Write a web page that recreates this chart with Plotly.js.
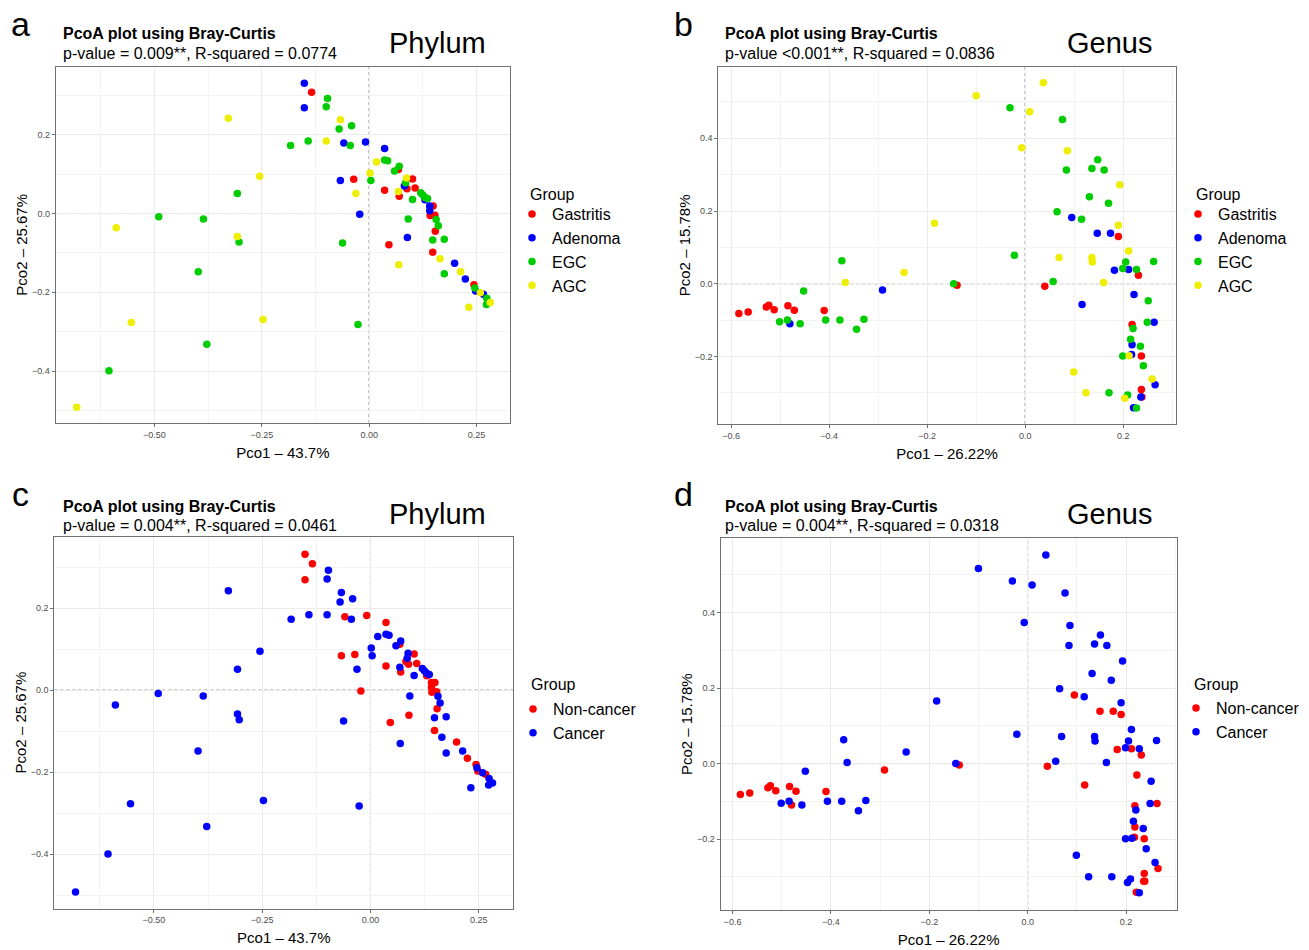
<!DOCTYPE html>
<html>
<head>
<meta charset="utf-8">
<script src="https://cdn.plot.ly/plotly-3.0.1.min.js"></script>
<style>html,body{margin:0;padding:0;background:#fff;}#chart{width:1309px;height:950px;}</style>
</head>
<body>
<div id="chart"></div>
<script>
// ---------------- DATA ----------------
// Phylum-level PCoA (panels a & c)
const phylumGastritisX = [-0.134,-0.036,0.036,0.068,0.101,0.088,0.070,0.107,0.046,0.149,0.142,0.153,0.154,0.148,0.244];
const phylumGastritisY = [0.308,0.087,0.059,0.112,0.088,0.063,0.044,0.065,-0.079,0.019,-0.005,-0.004,-0.045,-0.098,-0.181];
const phylumAdenomaX = [-0.151,-0.151,-0.059,-0.0085,-0.067,0.036,-0.022,0.082,0.089,0.141,0.141,0.130,0.199,0.224,0.248,0.266];
const phylumAdenomaY = [0.331,0.269,0.179,0.182,0.084,0.165,-0.002,0.070,-0.061,0.019,0.007,0.035,-0.126,-0.166,-0.197,-0.205];
const phylumEGCX = [-0.097,-0.100,-0.070,-0.041,-0.142,-0.183,-0.044,-0.307,-0.490,-0.386,-0.303,-0.062,-0.398,-0.378,-0.606,-0.026,0.004,0.036,0.043,0.059,0.070,0.085,0.120,0.125,0.130,0.136,0.101,0.091,0.156,0.161,0.148,0.175,0.175,0.246,0.274,0.273];
const phylumEGCY = [0.292,0.271,0.215,0.223,0.184,0.173,0.173,0.051,-0.008,-0.014,-0.072,-0.075,-0.148,-0.332,-0.399,-0.282,0.084,0.136,0.134,0.108,0.120,0.078,0.053,0.047,0.041,0.038,0.036,-0.014,-0.015,-0.031,-0.067,-0.065,-0.153,-0.189,-0.215,-0.231];
const phylumAGCX = [-0.328,-0.067,-0.100,-0.255,0.017,0.002,0.087,-0.031,0.068,-0.589,-0.307,0.069,0.165,0.213,0.259,0.282,0.232,-0.554,-0.247,-0.681];
const phylumAGCY = [0.242,0.238,0.184,0.095,0.131,0.103,0.090,0.051,0.056,-0.036,-0.058,-0.130,-0.115,-0.148,-0.201,-0.226,-0.238,-0.277,-0.269,-0.492];

// Genus-level PCoA (panels b & d)
const genusGastritisX = [-0.584,-0.565,-0.528,-0.523,-0.512,-0.484,-0.471,-0.410,-0.139,0.040,0.190,0.231,0.218,0.237,0.237,0.238];
const genusGastritisY = [-0.082,-0.078,-0.064,-0.059,-0.072,-0.061,-0.073,-0.074,-0.004,-0.007,0.130,0.023,-0.112,-0.199,-0.291,-0.312];
const genusAdenomaX = [-0.480,-0.291,0.095,0.147,0.174,0.182,0.211,0.222,0.116,0.263,0.218,0.217,0.265,0.236,0.221];
const genusAdenomaY = [-0.110,-0.017,0.182,0.139,0.139,0.037,0.039,-0.030,-0.057,-0.106,-0.168,-0.195,-0.278,-0.312,-0.341];
const genusEGCX = [-0.031,0.076,0.084,0.136,0.148,0.161,0.131,0.170,0.065,0.115,-0.022,0.057,0.205,0.199,0.227,0.262,0.251,0.249,0.220,0.215,0.235,0.199,0.241,0.171,0.209,0.227,-0.374,-0.452,-0.501,-0.485,-0.459,-0.407,-0.378,-0.344,-0.329,-0.146];
const genusEGCY = [0.484,0.452,0.313,0.317,0.341,0.313,0.239,0.221,0.198,0.177,0.078,0.006,0.060,0.042,0.039,0.061,-0.047,-0.106,-0.123,-0.153,-0.172,-0.199,-0.226,-0.300,-0.306,-0.342,0.063,-0.020,-0.105,-0.100,-0.110,-0.100,-0.100,-0.125,-0.098,0.000];
const genusAGCX = [0.037,-0.100,0.009,-0.007,0.086,0.193,0.190,-0.185,0.211,0.069,0.136,0.137,-0.247,-0.367,0.160,0.212,0.099,0.259,0.124,0.203];
const genusAGCY = [0.553,0.517,0.473,0.374,0.366,0.272,0.161,0.166,0.090,0.072,0.072,0.060,0.031,0.003,0.003,-0.198,-0.243,-0.262,-0.300,-0.315];

const groupNames = ['Gastritis','Adenoma','EGC','AGC'];
const statusNames = ['Non-cancer','Cancer'];
const legendTitle = 'Group';
const xTitles = ['Pco1 \u2013 43.7%','Pco1 \u2013 26.22%'];
const yTitles = ['Pco2 \u2013 25.67%','Pco2 \u2013 15.78%'];
const pLines = ['p-value = 0.009**, R-squared = 0.0774','p-value <0.001**, R-squared = 0.0836','p-value = 0.004**, R-squared = 0.0461','p-value = 0.004**, R-squared = 0.0318'];
const levelNames = ['Phylum','Genus','Phylum','Genus'];
const panelLetters = ['a','b','c','d'];
const headline = 'PcoA plot using Bray-Curtis';

// ---------------- STYLE ----------------
const W = 1309, H = 950;
const px = v => v / W;
const py = v => 1 - v / H;
const FONT = 'Liberation Sans, Arial, sans-serif';
const groupColors = ['#FF0000','#0000FF','#00CD00','#EEEE00'];
const statusColors = ['#FF0000','#0000FF'];
const MS = 7.5;

function pts(x, y, name, color, xa, ya, legend) {
  return {type:'scatter', mode:'markers', x:x, y:y, name:name, xaxis:xa, yaxis:ya, legend:legend,
    marker:{color:color, size:MS}, hoverinfo:'x+y+name'};
}

const phylum = [[phylumGastritisX,phylumGastritisY],[phylumAdenomaX,phylumAdenomaY],[phylumEGCX,phylumEGCY],[phylumAGCX,phylumAGCY]];
const genus = [[genusGastritisX,genusGastritisY],[genusAdenomaX,genusAdenomaY],[genusEGCX,genusEGCY],[genusAGCX,genusAGCY]];

const traces = [];
groupNames.forEach((g,i) => traces.push(pts(phylum[i][0], phylum[i][1], g, groupColors[i], 'x','y','legend')));
groupNames.forEach((g,i) => traces.push(pts(genus[i][0], genus[i][1], g, groupColors[i], 'x2','y2','legend2')));
// Non-cancer = Gastritis + Adenoma ; Cancer = EGC + AGC
function combine(set, a, b, k){ return set[a][k].concat(set[b][k]); }
traces.push(pts(combine(phylum,0,1,0), combine(phylum,0,1,1), statusNames[0], statusColors[0], 'x3','y3','legend3'));
traces.push(pts(combine(phylum,2,3,0), combine(phylum,2,3,1), statusNames[1], statusColors[1], 'x3','y3','legend3'));
traces.push(pts(combine(genus,0,1,0), combine(genus,0,1,1), statusNames[0], statusColors[0], 'x4','y4','legend4'));
traces.push(pts(combine(genus,2,3,0), combine(genus,2,3,1), statusNames[1], statusColors[1], 'x4','y4','legend4'));

function xax(domain, range, dtick, fmt, title, anchor) {
  return {domain:domain, range:range, anchor:anchor, dtick:dtick, tick0:0, tickformat:fmt,
    showgrid:true, gridcolor:'#EBEBEB', gridwidth:1, zeroline:false,
    minor:{dtick:dtick/2, tick0:0, showgrid:true, gridcolor:'#F3F3F3', gridwidth:1},
    showline:true, mirror:true, linecolor:'#707070', linewidth:1,
    ticks:'outside', ticklen:3, tickcolor:'#707070', tickwidth:1,
    tickfont:{family:FONT, size:9, color:'#4D4D4D'},
    title:{text:title, font:{family:FONT, size:15, color:'#000'}, standoff:8},
    automargin:false, fixedrange:true};
}
function yax(domain, range, title, anchor) {
  return {domain:domain, range:range, anchor:anchor, dtick:0.2, tick0:0, tickformat:'.1f',
    showgrid:true, gridcolor:'#EBEBEB', gridwidth:1, zeroline:false,
    minor:{dtick:0.1, tick0:0, showgrid:true, gridcolor:'#F3F3F3', gridwidth:1},
    showline:true, mirror:true, linecolor:'#707070', linewidth:1,
    ticks:'outside', ticklen:3, tickcolor:'#707070', tickwidth:1,
    tickfont:{family:FONT, size:9, color:'#4D4D4D'},
    title:{text:title, font:{family:FONT, size:15, color:'#000'}, standoff:0},
    automargin:false, fixedrange:true};
}

function legendAt(x, y) {
  return {x:px(x), y:py(y), xanchor:'left', yanchor:'top', bgcolor:'rgba(0,0,0,0)',
    font:{family:FONT, size:16, color:'#000'},
    itemclick:false, itemdoubleclick:false};
}

const panelGeom = [
  {tx:61, ty1:34, ty2:53.5, lx:437, ly:43, letX:20, letY:24, gx:528, gy:194},
  {tx:723, ty1:34, ty2:53.5, lx:1109, ly:43, letX:683, letY:24, gx:1194, gy:194},
  {tx:61, ty1:506, ty2:525.5, lx:437, ly:514, letX:20, letY:494, gx:529, gy:684},
  {tx:723, ty1:506, ty2:525.5, lx:1109, ly:514, letX:683, letY:494, gx:1192, gy:684}
];
const annotations = [];
panelGeom.forEach((g,i) => {
  annotations.push({xref:'paper', yref:'paper', x:px(g.tx), y:py(g.ty1), xanchor:'left', yanchor:'middle', showarrow:false,
    text:'<b>'+headline+'</b>', font:{family:FONT, size:16, color:'#000'}});
  annotations.push({xref:'paper', yref:'paper', x:px(g.tx), y:py(g.ty2), xanchor:'left', yanchor:'middle', showarrow:false,
    text:pLines[i], font:{family:FONT, size:16, color:'#000'}});
  annotations.push({xref:'paper', yref:'paper', x:px(g.lx), y:py(g.ly), xanchor:'center', yanchor:'middle', showarrow:false,
    text:levelNames[i], font:{family:FONT, size:29, color:'#000'}});
  annotations.push({xref:'paper', yref:'paper', x:px(g.letX), y:py(g.letY), xanchor:'center', yanchor:'middle', showarrow:false,
    text:panelLetters[i], font:{family:FONT, size:34, color:'#000'}});
  annotations.push({xref:'paper', yref:'paper', x:px(g.gx), y:py(g.gy), xanchor:'left', yanchor:'middle', showarrow:false,
    text:legendTitle, font:{family:FONT, size:16, color:'#000'}});
});

const shapes = [];
['','2','3','4'].forEach(s => {
  shapes.push({type:'line', xref:'x'+s, yref:'y'+s+' domain', x0:0, x1:0, y0:0, y1:1, line:{color:'#555', width:1, dash:'dot'}, layer:'below'});
  shapes.push({type:'line', xref:'x'+s+' domain', yref:'y'+s, x0:0, x1:1, y0:0, y1:0, line:{color:'#555', width:1, dash:'dot'}, layer:'below'});
});

const layout = {
  width:W, height:H, margin:{l:0, r:0, t:0, b:0},
  paper_bgcolor:'#fff', plot_bgcolor:'#fff',
  font:{family:FONT},
  showlegend:true,
  xaxis: xax([px(55.7), px(510)], [-0.730, 0.328], 0.25, '.2f', xTitles[0], 'y'),
  yaxis: yax([py(423), py(66.7)], [-0.532, 0.373], yTitles[0], 'x'),
  xaxis2: xax([px(718.3), px(1175.7)], [-0.626, 0.307], 0.2, '.1f', xTitles[1], 'y2'),
  yaxis2: yax([py(424), py(66.7)], [-0.386, 0.597], yTitles[1], 'x2'),
  xaxis3: xax([px(54.3), px(513.3)], [-0.730, 0.330], 0.25, '.2f', xTitles[0], 'y3'),
  yaxis3: yax([py(908.5), py(536.7)], [-0.532, 0.374], yTitles[0], 'x3'),
  xaxis4: xax([px(720.7), px(1176.7)], [-0.624, 0.303], 0.2, '.1f', xTitles[1], 'y4'),
  yaxis4: yax([py(910), py(538.3)], [-0.388, 0.597], yTitles[1], 'x4'),
  legend: legendAt(512, 197),
  legend2: legendAt(1178, 197),
  legend3: legendAt(513, 692),
  legend4: legendAt(1176, 691),
  annotations: annotations,
  shapes: shapes
};

Plotly.newPlot('chart', traces, layout, {displayModeBar:false, responsive:false});
</script>
</body>
</html>
